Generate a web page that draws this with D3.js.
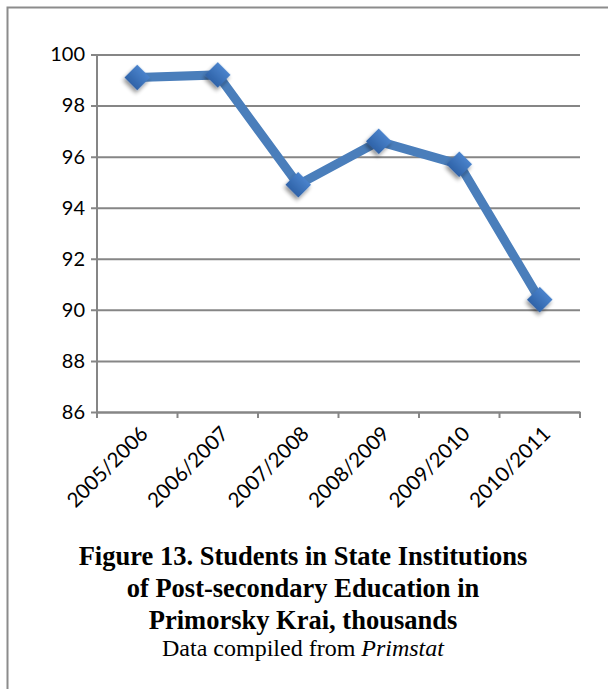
<!DOCTYPE html>
<html>
<head>
<meta charset="utf-8">
<script src="https://cdn.jsdelivr.net/npm/d3@7"></script>
<style>
  html, body { margin: 0; padding: 0; background: #fff; }
  svg { display: block; }
</style>
</head>
<body>
<svg id="chart" width="608" height="689"></svg>
<script>
// Students in state post-secondary institutions, Primorsky Krai (thousands)
const years = ["2005/2006", "2006/2007", "2007/2008", "2008/2009", "2009/2010", "2010/2011"];
const students = [99.1, 99.2, 94.9, 96.6, 95.7, 90.4];
const yTicks = [86, 88, 90, 92, 94, 96, 98, 100];
const captionLines = [
  "Figure 13. Students in State Institutions",
  "of Post-secondary Education in",
  "Primorsky Krai, thousands"
];
const sourceLead = "Data compiled from ";
const sourceName = "Primstat";

const svg = d3.select("#chart");
const W = 608, H = 689;
const margin = { left: 97, right: 28, top: 54.5, bottom: 277 };

// frame: top and left rule
svg.append("path")
  .attr("d", `M7.5,${H} V7.5 H${W}`)
  .attr("fill", "none")
  .attr("stroke", "#8c8c8c")
  .attr("stroke-width", 2);

const x = d3.scaleBand()
  .domain(years)
  .range([margin.left, W - margin.right]);

const y = d3.scaleLinear()
  .domain([86, 100])
  .range([H - margin.bottom, margin.top]);

const grid = "#868686";

// horizontal gridlines with left tick stubs
const yAxis = d3.axisLeft(y)
  .tickValues(yTicks)
  .tickSize(-(W - margin.right - margin.left))
  .tickSizeOuter(0)
  .tickPadding(12)
  .tickFormat(d3.format("d"));

const gy = svg.append("g")
  .attr("transform", `translate(${margin.left},0)`)
  .call(yAxis);
gy.select(".domain").remove();
gy.selectAll(".tick line")
  .attr("x1", -6)
  .attr("stroke", grid)
  .attr("stroke-width", 2);
gy.selectAll(".tick text")
  .attr("fill", "#000")
  .style("font-family", "Lato, 'Open Sans', sans-serif")
  .style("font-size", "20px");

// vertical axis line
svg.append("line")
  .attr("x1", margin.left).attr("x2", margin.left)
  .attr("y1", y(100)).attr("y2", y(86))
  .attr("stroke", grid).attr("stroke-width", 2);

// category axis with tick marks at band edges
const xAxis = d3.axisBottom(x).tickSize(0).tickPadding(0);
const gx = svg.append("g")
  .attr("transform", `translate(0,${y(86)})`)
  .call(xAxis);
gx.select(".domain").attr("stroke", grid).attr("stroke-width", 2);

const edges = years.map(d => x(d)).concat([x(years[years.length - 1]) + x.bandwidth()]);
gx.selectAll("line.edge")
  .data(edges)
  .join("line")
  .attr("class", "edge")
  .attr("x1", d => d).attr("x2", d => d)
  .attr("y1", 0).attr("y2", 6)
  .attr("stroke", grid).attr("stroke-width", 2);

gx.selectAll(".tick text")
  .attr("fill", "#000")
  .style("font-family", "Lato, 'Open Sans', sans-serif")
  .style("font-size", "20.5px")
  .attr("text-anchor", "end")
  .attr("dy", null)
  .attr("y", 0)
  .attr("transform", "translate(12,23) rotate(-45)");

// marker shading
const defs = svg.append("defs");
const grad = defs.append("linearGradient")
  .attr("id", "mk").attr("x1", 0).attr("y1", 0).attr("x2", 0).attr("y2", 1);
grad.append("stop").attr("offset", "0%").attr("stop-color", "#4a83cc");
grad.append("stop").attr("offset", "100%").attr("stop-color", "#2f63a8");

const shadow = defs.append("filter")
  .attr("id", "sh").attr("x", "-50%").attr("y", "-50%").attr("width", "200%").attr("height", "200%");
shadow.append("feGaussianBlur").attr("in", "SourceAlpha").attr("stdDeviation", 2.2).attr("result", "b");
shadow.append("feOffset").attr("in", "b").attr("dx", 1).attr("dy", 3).attr("result", "o");
shadow.append("feComponentTransfer").attr("in", "o").attr("result", "s")
  .append("feFuncA").attr("type", "linear").attr("slope", 0.45);
const merge = shadow.append("feMerge");
merge.append("feMergeNode").attr("in", "s");
merge.append("feMergeNode").attr("in", "SourceGraphic");

const cx = d => x(d) + x.bandwidth() / 2;

// series line
const line = d3.line()
  .x((d, i) => cx(years[i]))
  .y(d => y(d));

svg.append("path")
  .datum(students)
  .attr("d", line)
  .attr("fill", "none")
  .attr("stroke", "#4a7ebb")
  .attr("stroke-width", 9)
  .attr("stroke-linejoin", "miter");

// diamond markers
const diamond = d3.symbol().type(d3.symbolSquare).size(330);
svg.selectAll("path.marker")
  .data(students)
  .join("path")
  .attr("class", "marker")
  .attr("d", diamond)
  .attr("transform", (d, i) => `translate(${cx(years[i])},${y(d)}) rotate(45)`)
  .attr("fill", "url(#mk)")
  .attr("filter", "url(#sh)");

// caption
const cap = svg.append("g").attr("transform", `translate(303,0)`);
cap.selectAll("text.cap")
  .data(captionLines)
  .join("text")
  .attr("class", "cap")
  .attr("x", 0)
  .attr("y", (d, i) => 565 + i * 32)
  .attr("text-anchor", "middle")
  .style("font-family", "'Liberation Serif', 'Times New Roman', serif")
  .style("font-weight", "bold")
  .style("font-size", "26.5px")
  .text(d => d);

const src = cap.append("text")
  .attr("x", 0)
  .attr("y", 656)
  .attr("text-anchor", "middle")
  .style("font-family", "'Liberation Serif', 'Times New Roman', serif")
  .style("font-size", "24px");
src.append("tspan").text(sourceLead);
src.append("tspan").style("font-style", "italic").text(sourceName);
</script>
</body>
</html>
